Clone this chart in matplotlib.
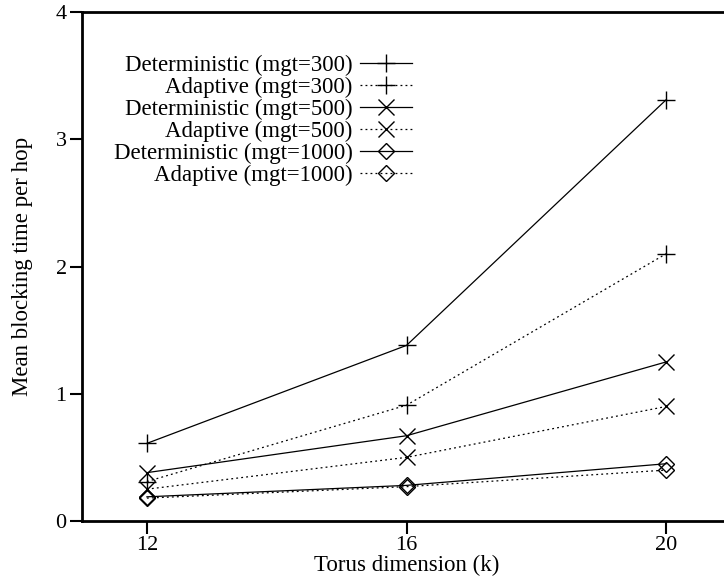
import numpy as np
import matplotlib.pyplot as plt

plt.rcParams['font.family'] = ['Liberation Serif', 'DejaVu Serif']

# 数据
k = [12, 16, 20]
det_300 = [0.61, 1.38, 3.31]
ada_300 = [0.31, 0.91, 2.10]
det_500 = [0.38, 0.67, 1.25]
ada_500 = [0.25, 0.50, 0.90]
det_1000 = [0.19, 0.28, 0.45]
ada_1000 = [0.18, 0.27, 0.40]

labels = ['Deterministic (mgt=300)', 'Adaptive (mgt=300)',
          'Deterministic (mgt=500)', 'Adaptive (mgt=500)',
          'Deterministic (mgt=1000)', 'Adaptive (mgt=1000)']
series = [det_300, ada_300, det_500, ada_500, det_1000, ada_1000]
markers = ['+', '+', 'x', 'x', 'D', 'D']
msizes = [13, 13, 12, 12, 8, 8]
dotted = (0, (1.5, 2.5))

fig = plt.figure(figsize=(7.24, 5.85), dpi=100)
ax = fig.add_axes([82/724, 64/585, 649/724, 509/585])

for i, (y, lab) in enumerate(zip(series, labels)):
    ls = '-' if i % 2 == 0 else dotted
    ax.plot(k, y, color='black', linestyle=ls, linewidth=0.9,
            marker=markers[i], markersize=msizes[i], markeredgewidth=1.0,
            markerfacecolor='none', markeredgecolor='black', label=lab)

ax.set_xlim(11, 21)
ax.set_ylim(0, 4)
ax.set_xticks([12, 16, 20])
ax.set_yticks([0, 1, 2, 3, 4])
ax.tick_params(direction='out', length=9, width=1.5, labelsize=16, pad=2)
for s in ['left', 'bottom', 'top']:
    ax.spines[s].set_linewidth(2)
ax.spines['right'].set_visible(False)

ax.set_xlabel('Torus dimension (k)', fontsize=16.5, labelpad=0)
ax.set_ylabel('Mean blocking time per hop', fontsize=16.5, labelpad=16)

leg = ax.legend(loc='upper left', bbox_to_anchor=(0.035, 0.934), frameon=False,
                markerfirst=False, fontsize=16.5, handlelength=2.3,
                labelspacing=0.04, handletextpad=0.3, borderaxespad=0)
# 右对齐标签
for vp in leg._legend_box.get_children()[1].get_children():
    vp.align = 'right'
    for hp in vp.get_children():
        hp.align = 'right'

fig.savefig('out.png', dpi=100)
